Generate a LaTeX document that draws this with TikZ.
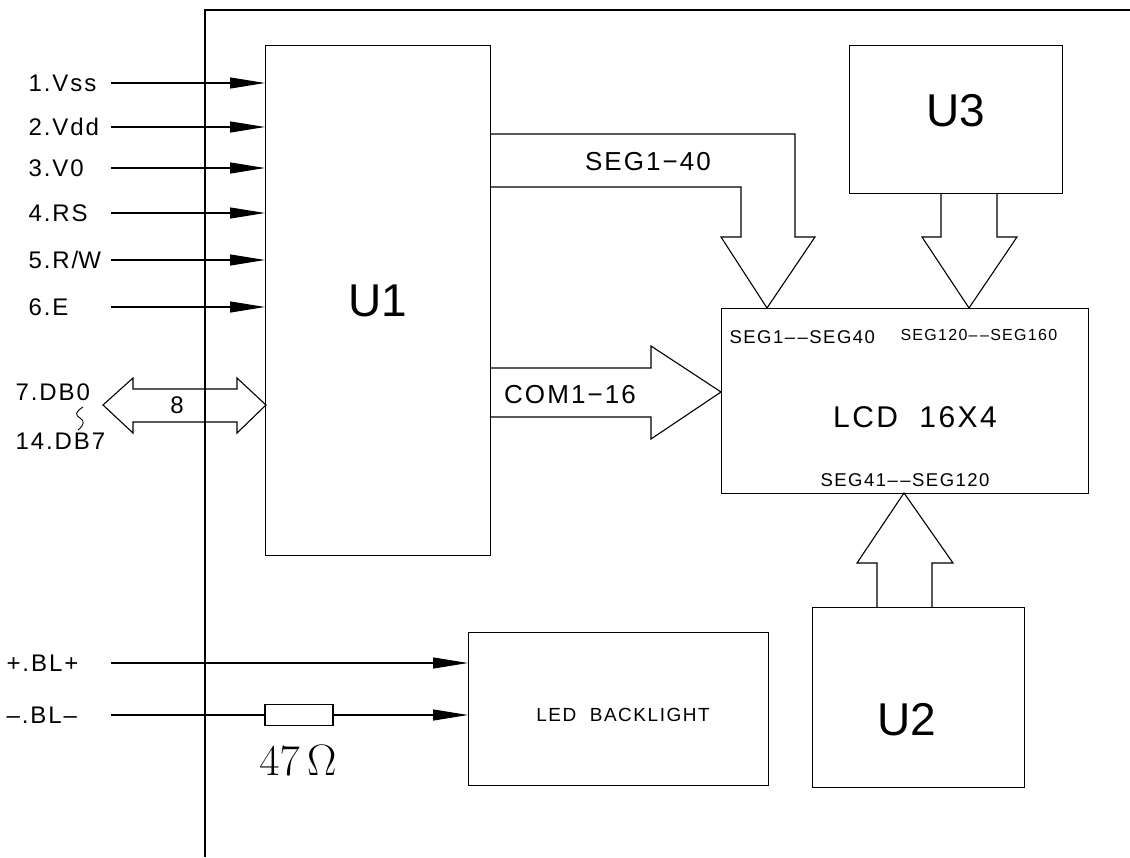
\RequirePackage{fix-cm}
\documentclass[tikz,border=0pt]{standalone}
\usepackage{fontspec}
\usetikzlibrary{positioning,arrows.meta,calc}
\newfontfamily\cadfont[LetterSpace=8]{Liberation Sans}
\newfontfamily\cadbig{Liberation Sans}
\newcommand{\fsz}[1]{\fontsize{#1}{#1}\selectfont}
\newcommand{\dd}{–\hspace{2.5pt}–}

\begin{document}
\begin{tikzpicture}[x=1pt, y=-1pt, line width=1.1pt,
    every node/.style={inner sep=0pt, font=\cadfont},
    box/.style={draw, anchor=north west},
    big/.style={font=\cadbig\fsz{46}},
    pin/.style={-{Triangle[length=35pt,width=11pt]}},
    pinlbl/.style={anchor=west, text width=82pt, align=left, font=\cadfont\fsz{24}}]
  \useasboundingbox (0,0) rectangle (1130,857);
  \draw (205,857) -- (205,10) -- (1130,10);

  \node[box, minimum width=225pt, minimum height=510pt, big] (U1) at (265,45) {U1};
  \node[box, minimum width=213pt, minimum height=148pt] (U3) at (849,45) {};
  \node[big] at ($(U3.center)+(0,-9)$) {U3};
  \node[box, minimum width=367pt, minimum height=185pt] (LCD) at (721,308) {};
  \node[box, minimum width=212pt, minimum height=180pt] (U2) at (812,607) {};
  \node[big] at (907,720) {U2};
  \node[box, minimum width=300pt, minimum height=153pt] (LED) at (468,632) {};
  \node[font=\cadfont\fsz{19}] at (623,715) {LED~~BACKLIGHT};

  \node[anchor=west, font=\cadfont\fsz{18.5}] at (729,337) {SEG1\dd SEG40};
  \node[anchor=west, font=\cadfont\fsz{16}] at (900,335) {SEG120\dd SEG160};
  \node[font=\cadfont\fsz{30}] at (915,417) {LCD~~16X4};
  \node[font=\cadfont\fsz{18.5}] at (905,480) {SEG41\dd SEG120};

  \foreach \n/\t/\y in {vss/1.Vss/83, vdd/2.Vdd/127, vo/3.V0/168, rs/4.RS/213, rw/5.R\slash W/260, en/6.E/307} {
    \node[pinlbl] (\n) at (28,\y) {\t};
    \draw[pin] (\n.east) -- (\n.east -| U1.west);
  }

  \node[anchor=west, font=\cadfont\fsz{24}] (db0) at (15,392) {7.DB0};
  \node[anchor=west, font=\cadfont\fsz{24}] (db7) at (15,441) {14.DB7};
  \draw[line width=0.9pt] (83,407) .. controls (75,412) and (75,415) .. (80,418) .. controls (85,421) and (84,425) .. (78,430);
  \draw (266,405) -- (237,378) -- (237,389) -- (133,389) -- (133,378) -- (103,405) -- (133,433) -- (133,422) -- (237,422) -- (237,433) -- cycle;
  \node[font=\cadfont\fsz{24}] at (177,405) {8};

  \draw (490,134) -- (795,134) -- (795,237) -- (815,237) -- (767,308) -- (721,237) -- (741,237) -- (741,187) -- (490,187);
  \node[font=\cadfont\fsz{26}] at (648,162) {SEG1−40};
  \draw (490,368) -- (651,368) -- (651,346) -- (721,392) -- (651,439) -- (651,417) -- (490,417);
  \node[font=\cadfont\fsz{26}] at (570,395) {COM1−16};
  \draw (941,193) -- (941,237) -- (922,237) -- (969,308) -- (1017,237) -- (997,237) -- (997,193);
  \draw (877,607) -- (877,563) -- (857,563) -- (904,493) -- (953,563) -- (932,563) -- (932,607);

  \node[anchor=west, text width=104pt, align=left, font=\cadfont\fsz{24}] (blp) at (6,663) {+.BL+};
  \node[anchor=west, text width=104pt, align=left, font=\cadfont\fsz{24}] (blm) at (6,715) {–.BL–};
  \node[draw, minimum width=68pt, minimum height=21pt] (R) at (299,715) {};
  \node[font=\fsz{44}] at (298,760) {$47\,\Omega$};
  \draw[pin] (blp.east) -- (blp.east -| LED.west);
  \draw (blm.east) -- (R.west);
  \draw[pin] (R.east) -- (R.east -| LED.west);
\end{tikzpicture}
\end{document}
